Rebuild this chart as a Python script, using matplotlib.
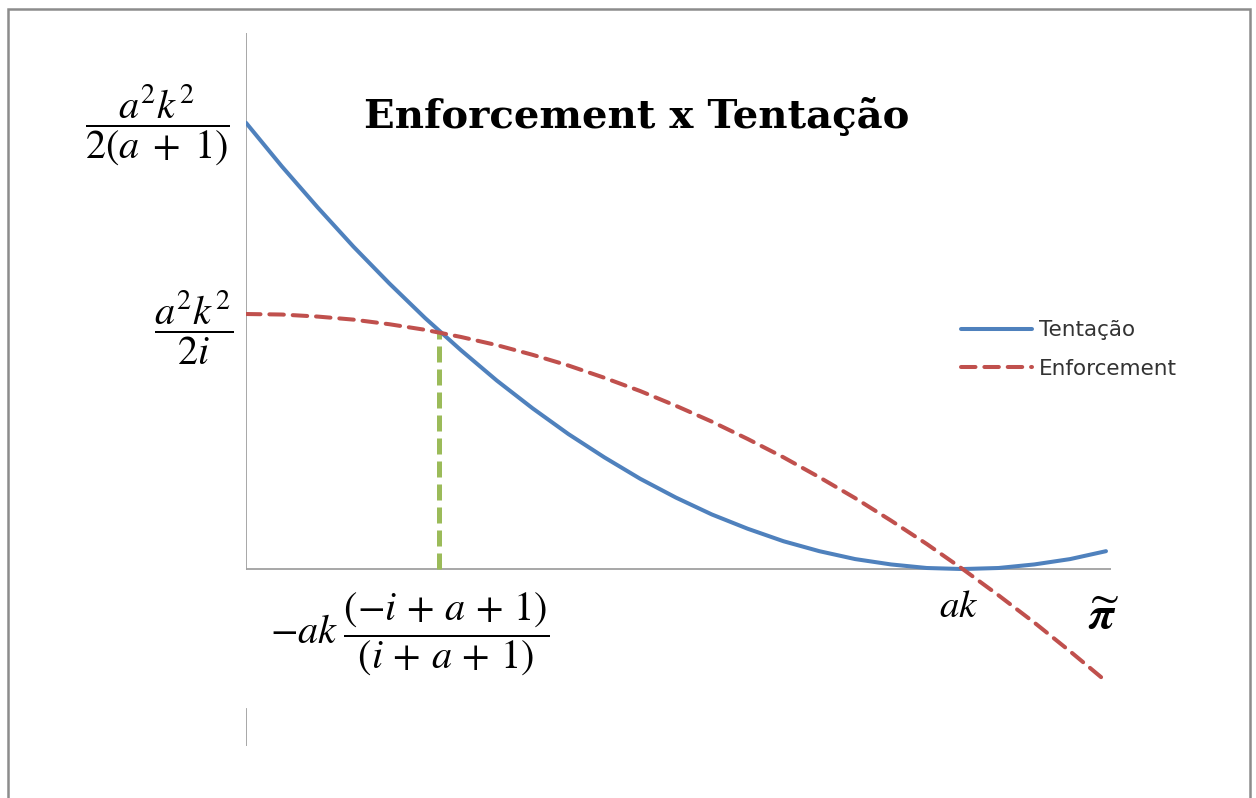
import numpy as np
import matplotlib.pyplot as plt
from matplotlib.patches import Rectangle

# valores (pi em unidades arbitrárias, ak = 10)
pi_vals = [0, 0.5, 1, 1.5, 2, 2.5, 3, 3.5, 4, 4.5, 5, 5.5, 6, 6.5, 7, 7.5,
           8, 8.5, 9, 9.5, 10, 10.5, 11, 11.5, 12]
tentacao = [1.750, 1.579, 1.418, 1.264, 1.120, 0.984, 0.858, 0.739, 0.630,
            0.529, 0.438, 0.354, 0.280, 0.214, 0.158, 0.109, 0.070, 0.039,
            0.018, 0.004, 0.000, 0.004, 0.018, 0.039, 0.070]
enforcement = [1.000, 0.998, 0.990, 0.978, 0.960, 0.938, 0.910, 0.878, 0.840,
               0.798, 0.750, 0.698, 0.640, 0.578, 0.510, 0.438, 0.360, 0.278,
               0.190, 0.098, 0.000, -0.103, -0.210, -0.323, -0.440]
pi_star = 2.69   # interseção
y_star = 0.93

blue = '#4F81BD'
red = '#C0504D'
green = '#9BBB59'
gray = '#A0A0A0'

plt.rcParams['mathtext.fontset'] = 'stix'

fig = plt.figure(figsize=(12.56, 7.98), dpi=100)
W, H = 1256, 798

# moldura cinza
fig.patches.append(Rectangle((8 / W, -0.05), 1 - 14 / W, 1.05 - 9 / H,
                             transform=fig.transFigure, fill=False,
                             edgecolor='#8C8C8C', linewidth=1.8))

ax = fig.add_axes([246 / W, 1 - 746 / H, (1111 - 246) / W, (746 - 33) / H])
ax.set_xlim(0, 12.07)
ax.set_ylim(-0.694, 2.102)
ax.axis('off')

# eixos
ax.plot([0, 12.07], [0, 0], color=gray, lw=1.3, zorder=1)
ax.plot([0, 0], [0, 2.102], color=gray, lw=1.3, zorder=1)
ax.plot([0, 0], [-0.547, -0.694], color=gray, lw=1.3, zorder=1)

ax.plot([pi_star, pi_star], [0, y_star], color=green, lw=3.6,
        dashes=(3.2, 1.4), zorder=2)
ax.plot(pi_vals, tentacao, color=blue, lw=2.9, label='Tentação', zorder=3,
        solid_capstyle='round', solid_joinstyle='round')
ax.plot(pi_vals, enforcement, color=red, lw=2.9, dashes=(3.6, 2.2),
        label='Enforcement', zorder=3, dash_capstyle='round')

leg = ax.legend(loc='upper left', bbox_to_anchor=(942 / W, 1 - 301 / H),
                bbox_transform=fig.transFigure, frameon=False,
                handlelength=3.3, handletextpad=0.3, labelspacing=0.85,
                prop={'family': 'DejaVu Sans', 'size': 15.5})
for t in leg.get_texts():
    t.set_color('#333333')

# rótulos
fig.text(637 / W, 1 - 117 / H, 'Enforcement x Tentação', ha='center', va='center',
         family='DejaVu Serif', weight='bold', fontsize=29)
fig.text(157 / W, 1 - 125 / H, r'$\dfrac{a^2k^2}{2(a\;+\;1)}$', ha='center',
         va='center', fontsize=29)
fig.text(194 / W, 1 - 328 / H, r'$\dfrac{a^2k^2}{2i}$', ha='center', va='center',
         fontsize=29)
fig.text(410 / W, 1 - 634 / H,
         r'$-ak\;\dfrac{(-i\,+\,a\,+\,1)}{(i\,+\,a\,+\,1)}$', ha='center',
         va='center', fontsize=29)
fig.text(959 / W, 1 - 606 / H, r'$ak$', ha='center', va='center', fontsize=28)
fig.text(1104 / W, 1 - 616 / H, r'$\widetilde{\boldsymbol{\pi}}$', ha='center',
         va='center', fontsize=33)

fig.savefig('out.png', dpi=100)
